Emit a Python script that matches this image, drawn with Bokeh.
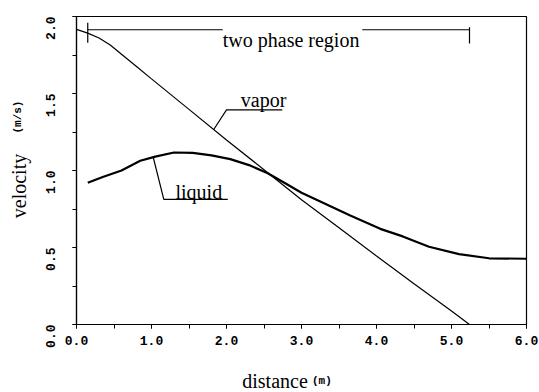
import math

from bokeh.embed import file_html
from bokeh.models import FixedTicker, Label, PrintfTickFormatter, Range1d
from bokeh.plotting import figure
from bokeh.resources import INLINE

# velocity profiles along the channel (m, m/s)
vapor_x = [0.0, 0.15, 0.3, 0.45, 0.6, 0.8, 1.0, 1.5, 2.0, 2.5, 3.0, 3.5, 4.0, 4.5, 5.0, 5.24]
vapor_v = [1.916, 1.892, 1.86, 1.815, 1.755, 1.675, 1.595, 1.397, 1.198, 1.005, 0.81, 0.628,
           0.445, 0.265, 0.088, 0.0]

liquid_x = [0.15, 0.35, 0.6, 0.85, 1.05, 1.3, 1.55, 1.8, 2.05, 2.3, 2.55, 2.8, 3.0, 3.3,
            3.65, 4.05, 4.35, 4.7, 5.1, 5.5, 6.0]
liquid_v = [0.92, 0.958, 1.0, 1.063, 1.09, 1.117, 1.115, 1.098, 1.074, 1.035, 0.982, 0.912,
            0.856, 0.788, 0.708, 0.621, 0.572, 0.505, 0.457, 0.43, 0.427]

# extent of the two phase region (m)
phase_start = 0.15
phase_end = 5.24

x_major = [0, 1, 2, 3, 4, 5, 6]
x_minor = [0, 0.5, 1, 1.5, 2, 2.5, 3, 3.5, 4, 4.5, 5, 5.5, 6]
y_major = [0, 0.5, 1.0, 1.5, 2.0]
y_minor = [0, 0.25, 0.5, 0.75, 1.0, 1.25, 1.5, 1.75, 2.0]

SERIF = "Liberation Serif"
MONO = "Liberation Mono"

p = figure(
    frame_width=450, frame_height=308,
    min_border_left=76, min_border_right=13, min_border_top=16, min_border_bottom=68,
    x_range=Range1d(0, 6), y_range=Range1d(0, 2),
    output_backend="svg", toolbar_location=None,
)
p.background_fill_color = "white"
p.border_fill_color = "white"
p.grid.visible = False
p.outline_line_color = "black"
p.outline_line_width = 1.2

for ax, major, minor in ((p.xaxis[0], x_major, x_minor), (p.yaxis[0], y_major, y_minor)):
    ax.ticker = FixedTicker(ticks=major, minor_ticks=minor)
    ax.formatter = PrintfTickFormatter(format="%.1f")
    ax.major_tick_out = 4
    ax.major_tick_in = 0
    ax.minor_tick_out = 4
    ax.minor_tick_in = 0
    ax.axis_line_color = "black"
    ax.axis_line_width = 1.2
    ax.major_tick_line_color = "black"
    ax.minor_tick_line_color = "black"
    ax.major_label_text_font = MONO
    ax.major_label_text_font_style = "bold"
    ax.major_label_text_font_size = "13px"
    ax.major_label_text_color = "black"

p.xaxis.major_label_standoff = 7
p.yaxis.major_label_standoff = 22
p.yaxis.major_label_orientation = math.pi / 2

# curves
p.line(vapor_x, vapor_v, line_color="black", line_width=1.2)
p.line(liquid_x, liquid_v, line_color="black", line_width=2.2)

# two phase region marker
bar_y = vapor_v[0] - 0.002
p.segment(x0=[phase_start, 3.81], y0=[bar_y, bar_y], x1=[1.95, phase_end], y1=[bar_y, bar_y],
          line_color="black", line_width=1.2)
p.segment(x0=[phase_start, phase_end], y0=[1.96, 1.93], x1=[phase_start, phase_end],
          y1=[1.83, 1.825], line_color="black", line_width=1.2)


def make_text(x, y, text, size, font=SERIF, style="normal", angle=0.0):
    return Label(x=x, y=y, text=text, text_font=font, text_font_size=size,
                 text_font_style=style, text_color="black", angle=angle,
                 text_align="left", text_baseline="alphabetic")


p.add_layout(make_text(1.95, 1.849, "two phase region", "20px"))

# curve captions with leader lines
p.add_layout(make_text(2.19, 1.455, "vapor", "20px"))
p.line([1.83, 2.0, 2.743], [1.266, 1.394, 1.394], line_color="black", line_width=1.2)

p.add_layout(make_text(1.32, 0.859, "liquid", "20px"))
p.line([1.023, 1.164, 2.017], [1.086, 0.812, 0.812], line_color="black", line_width=1.2)

# axis titles, placed in the side panels so they sit outside the frame
p.add_layout(make_text(2.21, -0.368, "distance", "20px"), "below")
p.add_layout(make_text(3.14, -0.37, "(m)", "11px", font=MONO, style="bold"), "below")
p.add_layout(make_text(-0.773, 0.69, "velocity", "20px", angle=math.pi / 2), "left")
p.add_layout(make_text(-0.785, 1.24, "(m/s)", "11px", font=MONO, style="bold",
                       angle=math.pi / 2), "left")

open("out.html", "w").write(file_html(p, INLINE))
